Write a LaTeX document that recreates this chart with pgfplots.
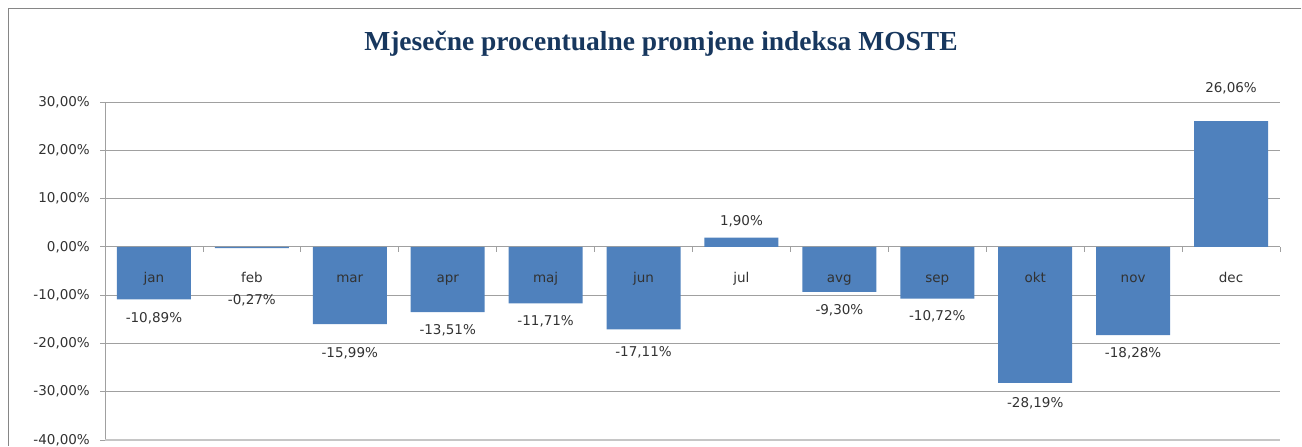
\documentclass[border=0pt]{standalone}
\usepackage{fontspec}
\setmainfont{DejaVu Sans}
\newfontfamily\titlefont{Liberation Serif}
\usepackage{pgfplots}
\pgfplotsset{compat=1.18}

\definecolor{barblue}{RGB}{79,129,189}
\definecolor{titlenavy}{RGB}{23,55,94}
\definecolor{gridgray}{RGB}{160,160,160}
\definecolor{framegray}{RGB}{134,134,134}
\definecolor{labelgray}{RGB}{50,50,50}

\newcommand{\lblfont}{\fontsize{13.5bp}{16bp}\selectfont}

\begin{document}
\begin{tikzpicture}
\path (0bp,0bp) rectangle (1302bp,447bp);
% chart frame (runs off the right and bottom edges)
\draw[framegray, line width=1bp] (1301.4bp,438bp) -- (8.5bp,438bp) -- (8.5bp,0.6bp);
\node[font=\titlefont\bfseries\fontsize{27.5bp}{30bp}\selectfont, text=titlenavy, anchor=base]
  at (661bp,396bp) {Mjesečne procentualne promjene indeksa MOSTE};

\begin{axis}[
  set layers,
  at={(105bp,7bp)}, anchor=south west,
  scale only axis, width=1175bp, height=338bp,
  xmin=-0.5, xmax=11.5, ymin=-40, ymax=30,
  ytick={-40,-30,...,30},
  ymajorgrids, grid style={gridgray, line width=0.8bp},
  axis y line*=left, axis x line*=middle,
  axis line style={gridgray, line width=0.8bp, -},
  tick align=outside, major tick length=5bp, minor tick length=5bp,
  xtick={0,...,11},
  xticklabels={jan,feb,mar,apr,maj,jun,jul,avg,sep,okt,nov,dec},
  minor xtick={-0.5,0.5,...,11.5},
  major x tick style={draw=none},
  minor x tick style={gridgray, line width=0.8bp},
  ytick style={gridgray, line width=0.8bp},
  xticklabel style={/pgfplots/on layer=axis foreground, anchor=base, yshift=-31bp, text=labelgray, font=\lblfont},
  yticklabel style={text=labelgray, font=\lblfont, inner sep=0pt, xshift=-10bp},
  /pgf/number format/assume math mode=true,
  yticklabel={\pgfmathprintnumber[fixed,fixed zerofill,precision=2,use comma]{\tick}\%},
  ybar, bar width=0.756,
  clip=false,
  nodes near coords={\pgfmathprintnumber[fixed,fixed zerofill,precision=2,use comma]{\pgfplotspointmeta}\%},
  visualization depends on={\thisrow{dy} \as \dy},
  every node near coord/.append style={anchor=center, yshift=\dy bp, text=labelgray, font=\lblfont},
]
\addplot[fill=barblue, draw=none] table {
x y dy
0 -10.89 -19
1 -0.27 -52
2 -15.99 -29
3 -13.51 -18
4 -11.71 -18
5 -17.11 -23
6 1.90 16
7 -9.30 -19
8 -10.72 -18
9 -28.19 -20
10 -18.28 -18
11 26.06 33
};
\draw[gridgray!60, line width=2bp] (axis cs:-0.5,-40) -- (axis cs:11.5,-40);
\end{axis}
\end{tikzpicture}
\end{document}
